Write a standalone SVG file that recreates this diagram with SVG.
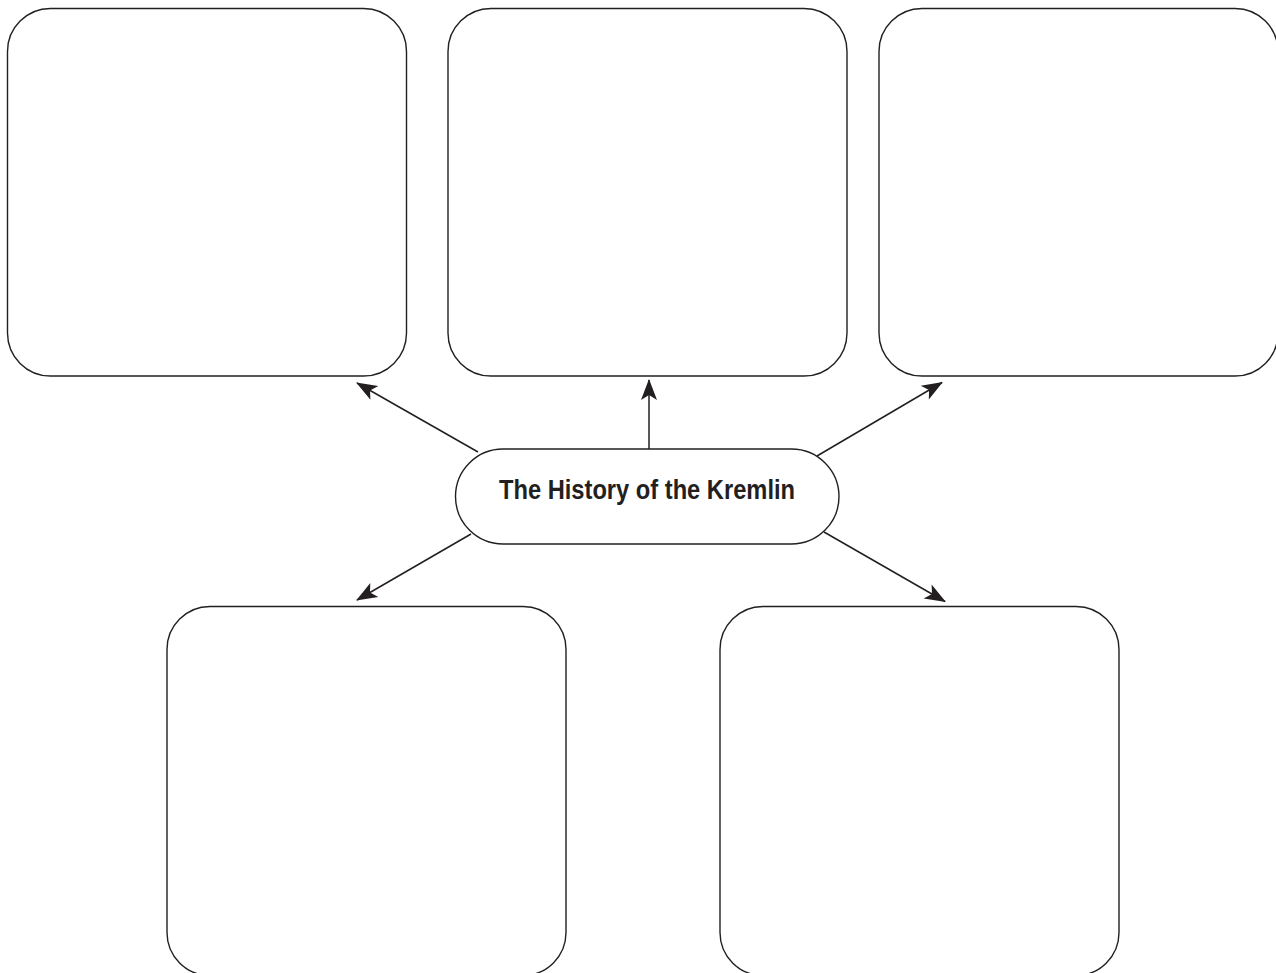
<svg xmlns="http://www.w3.org/2000/svg" width="1276" height="973" viewBox="0 0 1276 973">
  <style>
    .box { fill: #ffffff; stroke: #231f20; stroke-width: 1.4; }
    .link { fill: none; stroke: #231f20; stroke-width: 1.5; marker-end: url(#arrow); }
    .title { font-family: "Liberation Sans Narrow", "Liberation Sans", Arial, sans-serif; font-weight: bold; font-size: 28px; fill: #231f20; }
  </style>
  <defs>
    <marker id="arrow" markerUnits="userSpaceOnUse" markerWidth="26" markerHeight="22" refX="0" refY="0" viewBox="-22 -11 26 22" orient="auto">
      <path d="M1,0 L-20,-8 L-15,0 L-20,8 Z" fill="#231f20"/>
    </marker>
  </defs>
  <rect width="1276" height="973" fill="#ffffff"/>

  <g id="box-top-left"><rect class="box" x="7.5" y="8.5" width="399" height="367.5" rx="43" ry="43"/></g>
  <g id="box-top-middle"><rect class="box" x="448" y="8.5" width="399" height="367.5" rx="43" ry="43"/></g>
  <g id="box-top-right"><rect class="box" x="879" y="8.5" width="399" height="367.5" rx="43" ry="43"/></g>
  <g id="box-bottom-left"><rect class="box" x="167" y="606.5" width="399" height="369" rx="43" ry="43"/></g>
  <g id="box-bottom-right"><rect class="box" x="720" y="606.5" width="399" height="369" rx="43" ry="43"/></g>

  <g id="connectors">
    <line class="link" x1="478" y1="452" x2="357" y2="383"/>
    <line class="link" x1="649" y1="449" x2="649" y2="380"/>
    <line class="link" x1="817" y1="456" x2="942" y2="382.5"/>
    <line class="link" x1="471" y1="534" x2="357" y2="600"/>
    <line class="link" x1="824" y1="532" x2="945" y2="601.5"/>
  </g>

  <g id="center">
    <rect class="box" x="455.5" y="449" width="383.5" height="95" rx="47.5" ry="47.5"/>
    <text class="title" x="647" y="498.5" text-anchor="middle" textLength="296" lengthAdjust="spacingAndGlyphs">The History of the Kremlin</text>
  </g>
</svg>
